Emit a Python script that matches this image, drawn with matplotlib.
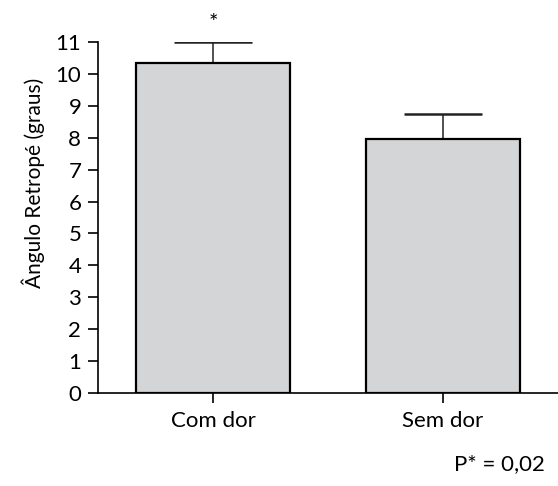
import matplotlib.pyplot as plt

# data
groups = ["Com dor", "Sem dor"]
means = [10.35, 7.95]
err_up = [0.65, 0.80]
yticks = list(range(0, 12))

plt.rcParams['font.family'] = ['Lato', 'DejaVu Sans']

fig = plt.figure(figsize=(5.58, 4.86), dpi=100)
ax = fig.add_axes([0.1756, 0.1914, 0.8244, 0.7222])

x = [0, 1]
ax.bar(x, means, width=0.67, color='#d4d5d7', edgecolor='black', linewidth=1.6, zorder=2)
ax.errorbar(x, means, yerr=[[0, 0], err_up], fmt='none', ecolor='#222222',
            elinewidth=1.1, capsize=28, capthick=1.8, zorder=1)

ax.set_xlim(-0.5, 1.5)
ax.set_ylim(0, 11)
ax.set_yticks(yticks)
ax.set_xticks(x)
ax.set_xticklabels(groups, fontsize=16)
ax.tick_params(axis='y', labelsize=16, length=7, width=1.2, pad=5)
ax.tick_params(axis='x', length=7, width=1.2, pad=6)
ax.spines['top'].set_visible(False)
ax.spines['right'].set_visible(False)
ax.spines['left'].set_linewidth(1.2)
ax.spines['bottom'].set_linewidth(1.2)
ax.set_ylabel("Ângulo Retropé (graus)", fontsize=15)
ax.yaxis.set_label_coords(-0.115, 0.6)

# significance mark
ax.text(0, 11.6, "*", ha='center', va='center', fontsize=16, clip_on=False)

fig.text(0.977, 0.033, "P* = 0,02", ha='right', va='baseline', fontsize=16)

fig.savefig("out.png", dpi=100)
